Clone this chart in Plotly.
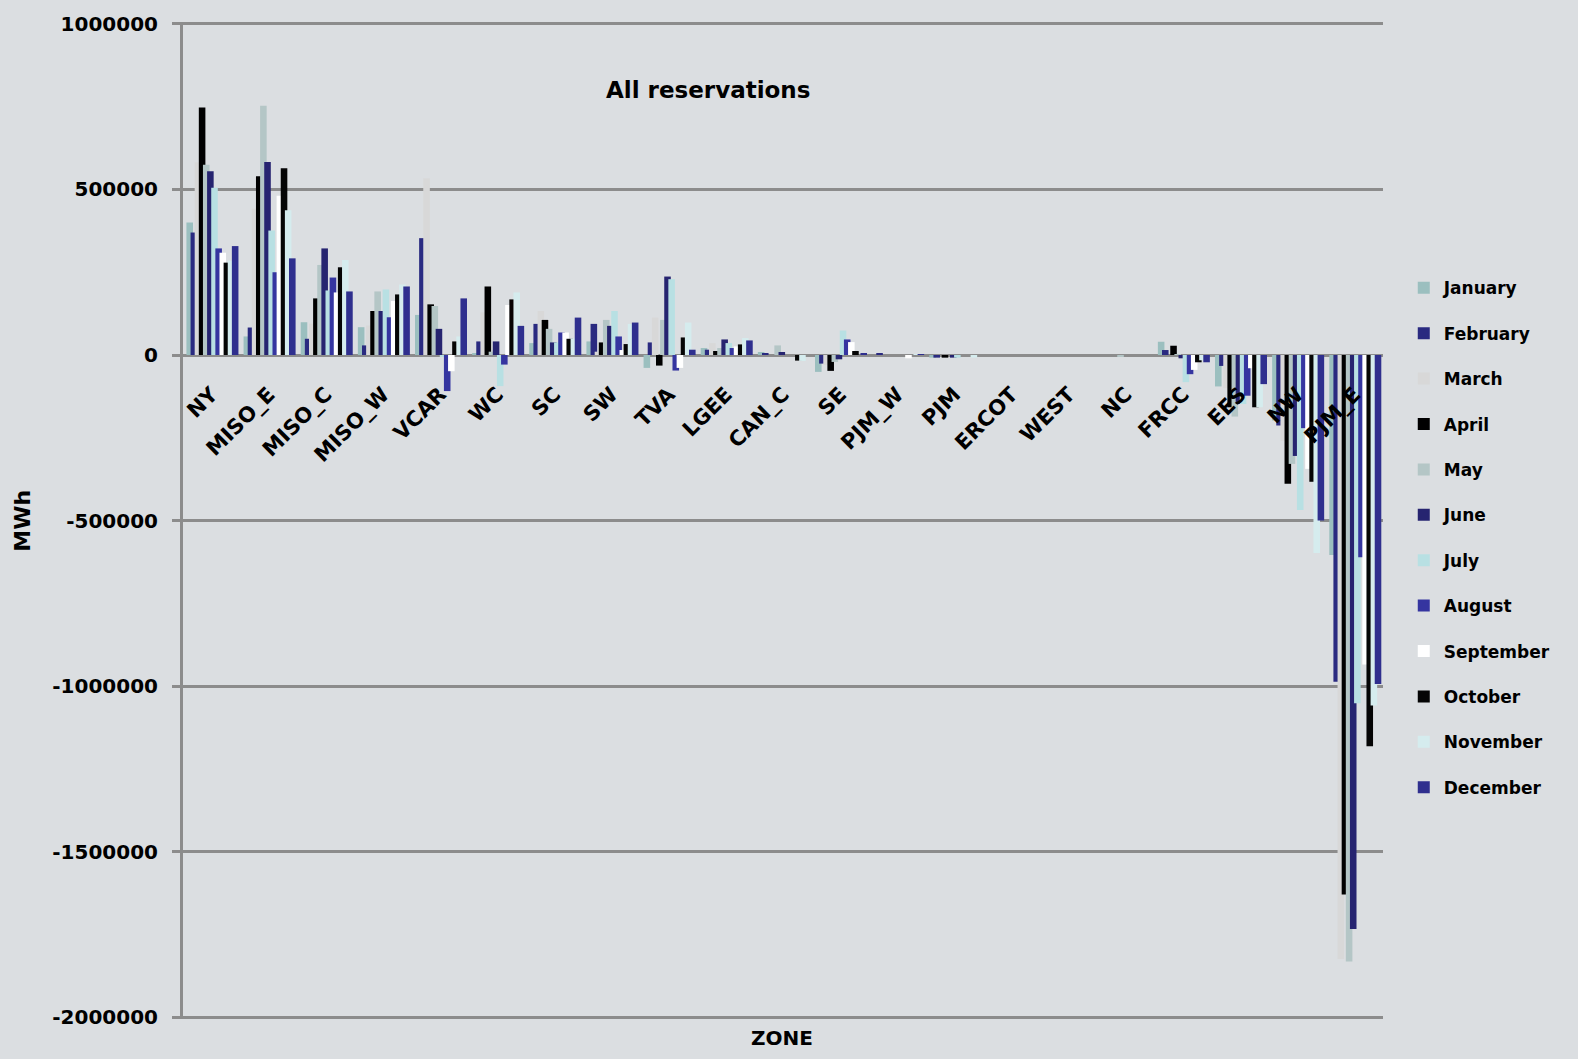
import plotly.graph_objects as go

zones = ["NY", "MISO_E", "MISO_C", "MISO_W", "VCAR", "WC", "SC", "SW", "TVA", "LGEE",
         "CAN_C", "SE", "PJM_W", "PJM", "ERCOT", "WEST", "NC", "FRCC", "EES", "NW", "PJM_E"]

months = ["January", "February", "March", "April", "May", "June", "July", "August",
          "September", "October", "November", "December"]

january = [400000, 56000, 99000, 84000, 121000, 6000, 36000, 41000, -39000, 21000,
           9000, -51000, 0, -8000, 0, 0, 0, 40000, -95000, -198000, -604000]
february = [370000, 83000, 49000, 29000, 353000, 41000, 94000, 94000, 38000, 16000,
            6000, -26000, 4000, -8000, 0, 0, 0, 15000, -33000, -213000, -987000]
march = [582000, 442000, 95000, 89000, 534000, 129000, 133000, 10000, 113000, 36000,
         0, -30000, 0, 0, 0, 0, 0, 0, -100000, -259000, -1825000]
april = [748000, 540000, 171000, 133000, 153000, 207000, 106000, 38000, -32000, 12000,
         0, -48000, 0, -8000, 0, 0, 0, 28000, -158000, -389000, -1630000]
may = [575000, 753000, 272000, 192000, 148000, 10000, 79000, 106000, 106000, 21000,
       29000, -21000, 0, 0, 0, 0, -6000, 3000, -186000, -329000, -1832000]
june = [555000, 583000, 322000, 133000, 79000, 41000, 38000, 88000, 237000, 47000,
        9000, -13000, 0, -8000, 0, 0, 0, -10000, -148000, -305000, -1734000]
july = [505000, 376000, 195000, 198000, -5000, -94000, 38000, 133000, 229000, 36000,
        0, 74000, 0, -8000, 0, 0, 0, -82000, -148000, -468000, -1052000]
august = [322000, 250000, 234000, 114000, -109000, -29000, 68000, 56000, -47000, 21000,
          0, 47000, 0, 0, 0, 0, 0, -58000, -123000, -221000, -611000]
september = [309000, 481000, 189000, 163000, -49000, 151000, 68000, 15000, -39000, 26000,
             0, 39000, -10000, 0, 0, 0, 0, -45000, -40000, -344000, -935000]
october = [279000, 564000, 265000, 183000, 41000, 168000, 49000, 33000, 53000, 32000,
           -17000, 12000, 0, 0, 0, 0, 0, -22000, -158000, -383000, -1182000]
november = [285000, 437000, 287000, 213000, 56000, 189000, 50000, 94000, 98000, 51000,
            -18000, 0, 2000, -8000, 0, 0, 0, -16000, -158000, -598000, -1059000]
december = [329000, 292000, 192000, 207000, 171000, 88000, 113000, 98000, 16000, 44000,
            0, 4000, 3000, 0, 0, 0, 0, -22000, -88000, -500000, -994000]

series = [january, february, march, april, may, june, july, august,
          september, october, november, december]

colors = ["#9BBFBF", "#2A2A80", "#D8D8D8", "#000000", "#B4C6C6", "#262470",
          "#B8E0E3", "#3535A0", "#FFFFFF", "#050505", "#D5ECEE", "#2F2F8E"]

y_tickvals = [1000000, 500000, 0, -500000, -1000000, -1500000, -2000000]
y_ticktext = ["1000000", "500000", "0", "-500000", "-1000000", "-1500000", "-2000000"]

FONT = "DejaVu Sans"
GRID = "#8C8C8C"
BG = "#DBDEE1"

Y_MIN, Y_MAX = -2006000, 1006000

# overlapping clustered bars, like the original spreadsheet chart
BAR_W = 0.115
PITCH = 0.0723
START = -0.44

fig = go.Figure()
for i, (name, vals, col) in enumerate(zip(months, series, colors)):
    fig.add_bar(x=zones, y=vals, name=name, marker_color=col,
                marker_line_width=0, legendgroup=name,
                offset=START + i * PITCH, width=BAR_W)

fig.update_layout(
    width=1578, height=1059,
    paper_bgcolor=BG, plot_bgcolor=BG,
    margin=dict(l=183, r=195, t=17, b=40),
    barmode="overlay",
    font=dict(family=FONT, color="black", size=17, weight="bold"),
    showlegend=True,
    legend=dict(x=1.0173, y=0.751, xanchor="left", yanchor="top",
                bgcolor="rgba(0,0,0,0)", tracegroupgap=20.3,
                font=dict(family=FONT, size=17, color="black", weight="bold"),
                itemwidth=30),
    xaxis=dict(type="category", anchor="free", position=(0 - Y_MIN) / (Y_MAX - Y_MIN),
               showline=False, ticks="", showgrid=False, tickangle=-45,
               ticklabelstandoff=22,
               tickfont=dict(family=FONT, size=21, color="black", weight="bold")),
    yaxis=dict(range=[Y_MIN, Y_MAX], tickvals=y_tickvals, ticktext=y_ticktext,
               showgrid=True, gridcolor=GRID, gridwidth=3,
               zeroline=True, zerolinecolor=GRID, zerolinewidth=3,
               showline=True, linecolor=GRID, linewidth=3,
               ticks="outside", ticklen=8, tickwidth=3, tickcolor=GRID,
               ticklabelstandoff=10,
               tickfont=dict(family=FONT, size=20, color="black", weight="bold")),
    annotations=[
        dict(text="All reservations", xref="paper", yref="paper", x=0.4375, y=0.932,
             xanchor="center", yanchor="middle", showarrow=False,
             font=dict(family=FONT, size=23, color="black", weight="bold")),
        dict(text="MWh", xref="paper", yref="paper", x=-0.134, y=0.5, textangle=-90,
             xanchor="center", yanchor="middle", showarrow=False,
             font=dict(family=FONT, size=22, color="black", weight="bold")),
        dict(text="ZONE", xref="paper", yref="paper", x=0.499, y=-0.019,
             xanchor="center", yanchor="middle", showarrow=False,
             font=dict(family=FONT, size=20, color="black", weight="bold")),
    ],
)

fig.write_html("out.html", config={"displayModeBar": False},
               post_script="document.body.style.margin='0px';")
